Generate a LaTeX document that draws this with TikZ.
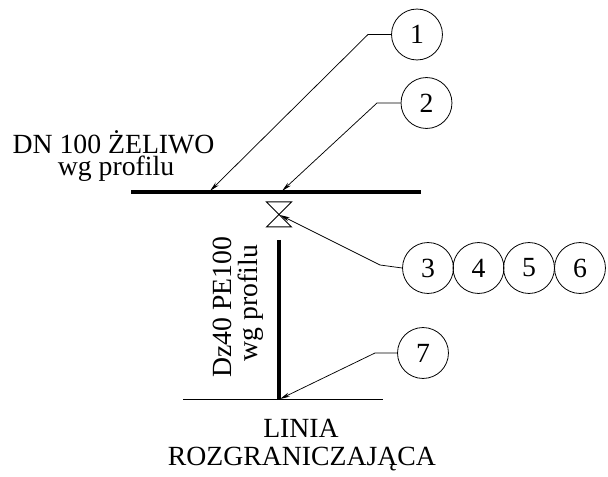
\documentclass[tikz,border=0pt]{standalone}
\usepackage{fontspec}
\setmainfont{Liberation Serif}
\usetikzlibrary{arrows.meta}
\tikzset{
  bubble/.style={circle,draw,line width=0.6pt,minimum size=38.2pt,inner sep=0pt,font=\fontsize{20.8}{20.8}\selectfont},
  leader/.style={line width=0.55pt,-{Stealth[length=7.5pt,width=3.2pt]}},
  label/.style={inner sep=0pt,align=center,font=\fontsize{20.8}{22}\selectfont},
  thick pipe/.style={line width=3pt},
  thin line/.style={line width=0.75pt}
}
\begin{document}
\begin{tikzpicture}[x=0.75pt,y=-0.75pt]
\useasboundingbox (0,0) rectangle (608,477);
\node[bubble] (c1) at (417,34.5) {1};
\node[bubble] (c2) at (426.5,103) {2};
\node[bubble] (c3) at (428,268) {3};
\node[bubble] (c4) at (478.5,268) {4};
\node[bubble] (c5) at (529,268) {5};
\node[bubble] (c6) at (580,268) {6};
\node[bubble] (c7) at (423,353) {7};
\coordinate (k1) at (368,34.5);
\coordinate (t1) at (210,191);
\coordinate (k2) at (377,103);
\coordinate (t2) at (282,191);
\coordinate (k3) at (380,265);
\coordinate (t3) at (280,215);
\coordinate (k7) at (375,353);
\coordinate (t7) at (280,399);
\coordinate (pa) at (131,192);
\coordinate (pb) at (421,192);
\coordinate (va) at (266.5,202);
\coordinate (vb) at (291.5,202);
\coordinate (vc) at (266.5,227);
\coordinate (vd) at (291.5,227);
\coordinate (ra) at (279,240);
\coordinate (rb) at (279,400);
\coordinate (la) at (183,400);
\coordinate (lb) at (383,400);
\draw[thick pipe] (pa) -- (pb);
\draw[thin line] (va) -- (vb) -- (vc) -- (vd) -- cycle;
\draw[thick pipe] (ra) -- (rb);
\draw[thin line] (la) -- (lb);
\draw[leader] (c1.west) -- (k1) -- (t1);
\draw[leader] (c2.west) -- (k2) -- (t2);
\draw[leader] (c3.west) -- (k3) -- (t3);
\draw[leader] (c7.west) -- (k7) -- (t7);
\node[label] (n1) at (113.5,142) {DN 100 ŻELIWO};
\node[label] (n2) at (116,169) {wg profilu};
\node[label,rotate=90] (n3) at (222,307) {Dz40 PE100};
\node[label,rotate=90] (n4) at (251,303) {wg profilu};
\node[label] (n5) at (301,428) {LINIA};
\node[label] (n6) at (302,459) {ROZGRANICZAJĄCA};
\end{tikzpicture}
\end{document}
